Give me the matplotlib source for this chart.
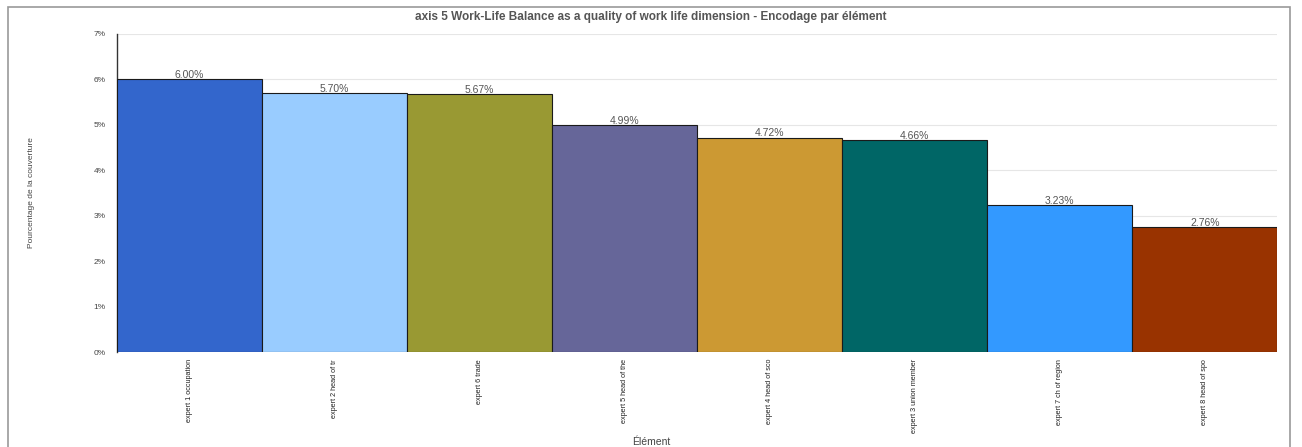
import matplotlib
matplotlib.use("Agg")
import matplotlib.pyplot as plt
from matplotlib.patches import Rectangle
from matplotlib.ticker import FuncFormatter, MultipleLocator

plt.rcParams['font.family'] = ['Liberation Sans', 'DejaVu Sans']

categories = [
    "expert 1 occupation",
    "expert 2 head of tr",
    "expert 6 trade",
    "expert 5 head of the",
    "expert 4 head of sco",
    "expert 3 union member",
    "expert 7 ch of region",
    "expert 8 head of spo",
]
values = [6.00, 5.70, 5.67, 4.99, 4.72, 4.66, 3.23, 2.76]
colors = ["#3366CC", "#99CCFF", "#999933", "#666699",
          "#CC9933", "#006666", "#3399FF", "#993300"]

title = "axis 5 Work-Life Balance as a quality of work life dimension - Encodage par élément"

fig = plt.figure(figsize=(13.02, 4.47), dpi=100)
ax = fig.add_axes([0.0899, 0.2125, 0.8911, 0.7115])

x = list(range(len(categories)))
ax.bar(x, values, width=1.0, color=colors, edgecolor="#1a1a1a", linewidth=0.8, zorder=3)

for xi, v in zip(x, values):
    ax.text(xi, v - 0.02, f"{v:.2f}%", ha="center", va="bottom",
            fontsize=7.5, color="#555555", zorder=4)

ax.set_xlim(-0.5, len(categories) - 0.5)
ax.set_ylim(0, 7)
ax.yaxis.set_major_locator(MultipleLocator(1))
ax.yaxis.set_major_formatter(FuncFormatter(lambda v, p: f"{int(round(v))}%"))
ax.grid(axis="y", color="#e6e6e6", linewidth=0.8, zorder=0)
ax.tick_params(axis="y", length=0, labelsize=6, labelcolor="#444444", pad=8)
ax.tick_params(axis="x", length=0, labelsize=5.2, labelcolor="#222222", pad=5)
ax.set_xticks(x)
ax.set_xticklabels(categories, rotation=90, va="top", ha="center")

for side in ("top", "right", "bottom"):
    ax.spines[side].set_visible(False)
ax.spines["left"].set_color("#333333")
ax.spines["left"].set_linewidth(1.0)

ax.set_ylabel("Pourcentage de la couverture", fontsize=6, color="#444444", labelpad=42)

fig.text(0.5, 0.012, "Élément", ha="center", va="center", fontsize=7.5,
         color="#444444")

fig.text(0.5, 0.962, title, ha="center", va="center", fontsize=8.5,
         fontweight="bold", color="#555555")

fig.patches.append(Rectangle((0.006, -0.01), 0.985, 0.995, transform=fig.transFigure,
                             fill=False, edgecolor="#999999", linewidth=1.2))

fig.savefig("out.png", dpi=100, facecolor="white")
